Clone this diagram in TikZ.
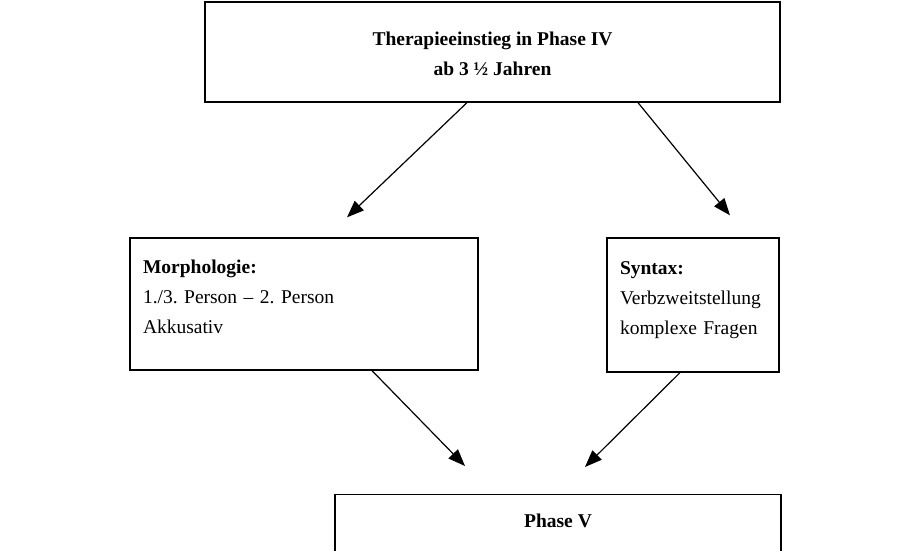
\documentclass[tikz,border=0pt]{standalone}
\usepackage{fontspec}
\setmainfont{Liberation Serif}
\usetikzlibrary{arrows.meta}
\frenchspacing

\begin{document}
\begin{tikzpicture}[x=1pt,y=1pt]

        \useasboundingbox (0,0) rectangle (922,551);
        \clip (0,0) rectangle (922,551);

        \begin{scope}[every node/.style={rectangle,draw,line width=1.3pt,inner xsep=13pt,font={\fontsize{19.5}{30}\selectfont}}]
          \node[align=center,minimum width=575pt,minimum height=100pt,text height=54pt,text depth=6pt] (einstieg) at (492.5,499) {\textbf{Therapieeinstieg in Phase IV}\\\textbf{ab 3 ½ Jahren}};
          \node[align=left,text width=322pt,minimum height=132pt,text height=20pt,text depth=80pt] (morph)  at (304,247) {\textbf{Morphologie:}\\1./3. Person – 2. Person\\Akkusativ};
          \node[align=left,text width=146pt,minimum height=134pt,text height=20pt,text depth=80pt] (syntax) at (693,246) {\textbf{Syntax:}\\Verbzweitstellung\\komplexe Fragen};
          \node[anchor=north,align=center,minimum width=446pt,inner ysep=13pt,text height=20pt,text depth=50pt] (phase) at (558,57) {\textbf{Phase V}};
        \end{scope}

        \begin{scope}[every edge/.style={draw,line width=1.2pt,-{Triangle[length=17pt,width=13pt]}}]
          \path ([xshift=-25.5pt]einstieg.south) edge ([xshift=43pt,yshift=20pt]morph.north);
          \path ([xshift=145.5pt]einstieg.south) edge ([xshift=37pt,yshift=22pt]syntax.north);
          \path ([xshift=68pt]morph.south)       edge ([xshift=-93pt,yshift=28pt]phase.north);
          \path ([xshift=-13pt]syntax.south)     edge ([xshift=27pt,yshift=27pt]phase.north);
        \end{scope}

      \end{tikzpicture}
\end{document}
